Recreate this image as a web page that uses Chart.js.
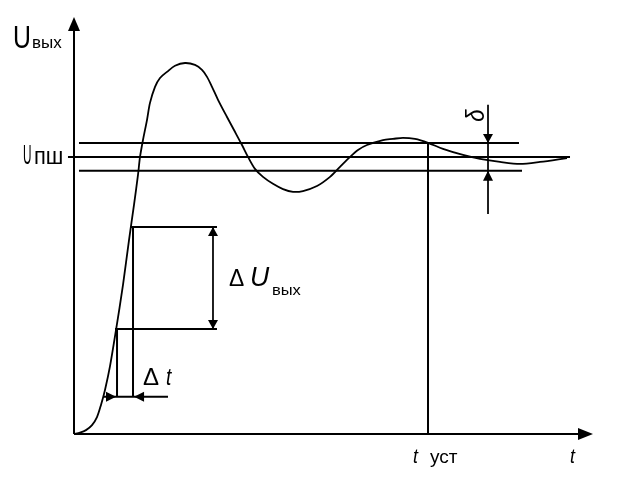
<!DOCTYPE html>
<html><head><meta charset="utf-8">
<script src="https://cdn.jsdelivr.net/npm/chart.js@4/dist/chart.umd.min.js"></script>
<style>html,body{margin:0;padding:0;background:#fff}#wrap{width:618px;height:483px;position:relative}</style>
</head><body><div id="wrap"><canvas id="c" width="618" height="483"></canvas></div>
<script>
// Transient response: time (t) and output voltage (U, relative to steady value Uпш = 1)
const curveT = [0,1.16,2.31,3.47,4.43,5.20,5.97,6.94,8.09,9.44,10.60,11.56,12.33,12.72,13.29,14.07,14.64,15.61,16.57,17.92,19.46,21.39,23.31,24.66,25.63,26.59,27.75,29.48,30.83,32.37,33.53,34.87,36.42,38.34,40.27,42.20,44.12,46.82,49.33,51.25,53.18,54.72,56.45,59.54,61.46,63.39,65.70,68.21,71.10,74.95,78.23,82.08,85.93,89.79,94.99];
const curveU = [0,0.005,0.014,0.032,0.061,0.105,0.159,0.245,0.375,0.538,0.700,0.827,0.935,1.0,1.061,1.134,1.195,1.253,1.285,1.307,1.329,1.339,1.332,1.314,1.289,1.253,1.206,1.144,1.097,1.043,1.0,0.957,0.928,0.903,0.884,0.874,0.877,0.895,0.928,0.964,1.0,1.025,1.043,1.061,1.065,1.069,1.065,1.051,1.029,1.007,0.993,0.982,0.975,0.982,0.996];

// Axis extents
const axisTMax = 100;
const axisUMax = 1.505;

// Tolerance band around steady value
const bandLevels = [1.05, 1.0, 0.95];
const bandStart  = [0.96, -1.16, 0.96];
const bandEnd    = [85.74, 95.57, 86.32];

// Settling time
const tSettle = 68.21;

// ΔU / Δt construction
const dUHigh = 0.747, dUHighStart = 10.79;
const dULow  = 0.379, dULowStart  = 7.90;
const dUEnd  = 27.55;
const dUArrowT = 26.78;
const dtT1 = 8.29, dtT2 = 11.37;
const dtLevel = 0.134, dtLineStart = 5.59, dtLineEnd = 18.11;

// δ marker
const deltaT = 79.77, deltaTop = 1.188, deltaBottom = 0.794;

const K = '#000';
function seg(pts, w){
  return {data: pts, borderColor: K, backgroundColor: K, borderWidth: w, pointRadius: 0, showLine: true, tension: 0, clip: false};
}

const datasets = [
  Object.assign(seg(curveT.map((t,i)=>({x:t,y:curveU[i]})), 1.8), {tension: 0.3}),
  seg([{x:0,y:0},{x:axisTMax - 2,y:0}], 2),
  seg([{x:0,y:0},{x:0,y:axisUMax - 0.03}], 2),
];
bandLevels.forEach((v,i)=>datasets.push(seg([{x:bandStart[i],y:v},{x:bandEnd[i],y:v}], 2)));
datasets.push(seg([{x:tSettle,y:bandLevels[0]},{x:tSettle,y:0}], 2));
datasets.push(seg([{x:dUHighStart,y:dUHigh},{x:dUEnd,y:dUHigh}], 2));
datasets.push(seg([{x:dULowStart,y:dULow},{x:dUEnd,y:dULow}], 2));
datasets.push(seg([{x:dtT2,y:dUHigh},{x:dtT2,y:dtLevel}], 2));
datasets.push(seg([{x:dtT1,y:dULow},{x:dtT1,y:dtLevel}], 2));
datasets.push(seg([{x:dtLineStart,y:dtLevel},{x:dtLineEnd,y:dtLevel}], 2));
datasets.push(seg([{x:dUArrowT,y:dUHigh},{x:dUArrowT,y:dULow}], 1));
datasets.push(seg([{x:deltaT,y:deltaTop},{x:deltaT,y:deltaBottom}], 1));

// Arrowheads: tip in data coords, direction
const arrows = [
  {x:0, y:axisUMax, dir:'up', len:14, hw:6},
  {x:axisTMax, y:0, dir:'right', len:15, hw:6},
  {x:dUArrowT, y:dUHigh, dir:'up', len:9, hw:5},
  {x:dUArrowT, y:dULow, dir:'down', len:9, hw:5},
  {x:dtT1 - 0.2, y:dtLevel, dir:'right', len:10, hw:5},
  {x:dtT2 + 0.2, y:dtLevel, dir:'left', len:10, hw:5},
  {x:deltaT, y:bandLevels[0], dir:'down', len:9, hw:5},
  {x:deltaT, y:bandLevels[2], dir:'up', len:10, hw:5},
];

const SANS = '"Liberation Sans", Arial, sans-serif';
function txt(ctx, s, x, y, size, opts){
  opts = opts || {};
  ctx.save();
  ctx.font = (opts.italic ? 'italic ' : '') + size + 'px ' + SANS;
  ctx.fillStyle = K;
  ctx.textBaseline = 'alphabetic';
  ctx.translate(x, y);
  if (opts.rot) ctx.rotate(opts.rot);
  ctx.scale(opts.sx || 1, 1);
  ctx.fillText(s, 0, 0);
  ctx.restore();
}

const overlay = {
  id: 'overlay',
  afterDatasetsDraw(chart){
    const ctx = chart.ctx, xs = chart.scales.x, ys = chart.scales.y;
    const px = v => xs.getPixelForValue(v), py = v => ys.getPixelForValue(v);
    ctx.save();
    ctx.fillStyle = K;
    arrows.forEach(a=>{
      const X = px(a.x), Y = py(a.y);
      ctx.beginPath();
      if (a.dir==='up'){ ctx.moveTo(X,Y); ctx.lineTo(X-a.hw,Y+a.len); ctx.lineTo(X+a.hw,Y+a.len); }
      if (a.dir==='down'){ ctx.moveTo(X,Y); ctx.lineTo(X-a.hw,Y-a.len); ctx.lineTo(X+a.hw,Y-a.len); }
      if (a.dir==='right'){ ctx.moveTo(X,Y); ctx.lineTo(X-a.len,Y-a.hw); ctx.lineTo(X-a.len,Y+a.hw); }
      if (a.dir==='left'){ ctx.moveTo(X,Y); ctx.lineTo(X+a.len,Y-a.hw); ctx.lineTo(X+a.len,Y+a.hw); }
      ctx.closePath(); ctx.fill();
    });
    ctx.restore();

    const x0 = px(0), yb = py(0), y1 = py(1);
    // Uвых
    txt(ctx, 'U', x0 - 61, py(axisUMax) + 31, 31, {sx:0.8});
    txt(ctx, 'вых', x0 - 42, py(axisUMax) + 31, 17, {sx:1.0});
    // Uпш
    txt(ctx, 'U', x0 - 51, y1 + 7, 28, {sx:0.42});
    txt(ctx, 'пш', x0 - 40, y1 + 7, 23, {sx:0.95});
    // ΔUвых
    const ax = px(dUArrowT), ym = (py(dUHigh)+py(dULow))/2;
    txt(ctx, 'Δ', ax + 16, ym + 8, 24, {sx:0.95});
    txt(ctx, 'U', ax + 37, ym + 8, 28, {italic:true, sx:0.95});
    txt(ctx, 'вых', ax + 59, ym + 17, 15, {sx:1.1});
    // Δt
    txt(ctx, 'Δ', px(dtT2) + 10, py(dtLevel) - 12, 24, {sx:1.0});
    txt(ctx, 't', px(dtT2) + 33, py(dtLevel) - 12, 24, {italic:true, sx:0.8});
    // t уст
    txt(ctx, 't', px(tSettle) - 15, yb + 29, 21, {italic:true, sx:0.85});
    txt(ctx, 'уст', px(tSettle) + 2, yb + 29, 19, {sx:1.0});
    // t axis label
    txt(ctx, 't', px(axisTMax) - 23, yb + 29, 21, {italic:true, sx:0.85});
    // δ rotated
    txt(ctx, 'δ', px(deltaT) - 4, py(deltaTop) + 17, 26, {italic:true, rot:-Math.PI/2, sx:0.85});
  }
};

new Chart(document.getElementById('c'), {
  type: 'scatter',
  data: {datasets},
  options: {
    responsive: false, devicePixelRatio: 1, animation: false,
    layout: {padding: {left: 74, right: 25, top: 17, bottom: 49}},
    scales: {
      x: {type:'linear', min: 0, max: axisTMax, display: false},
      y: {type:'linear', min: 0, max: axisUMax, display: false}
    },
    plugins: {legend: {display:false}, tooltip: {enabled:false}},
    elements: {line: {borderCapStyle:'butt'}}
  },
  plugins: [overlay]
});
</script>
</body></html>
